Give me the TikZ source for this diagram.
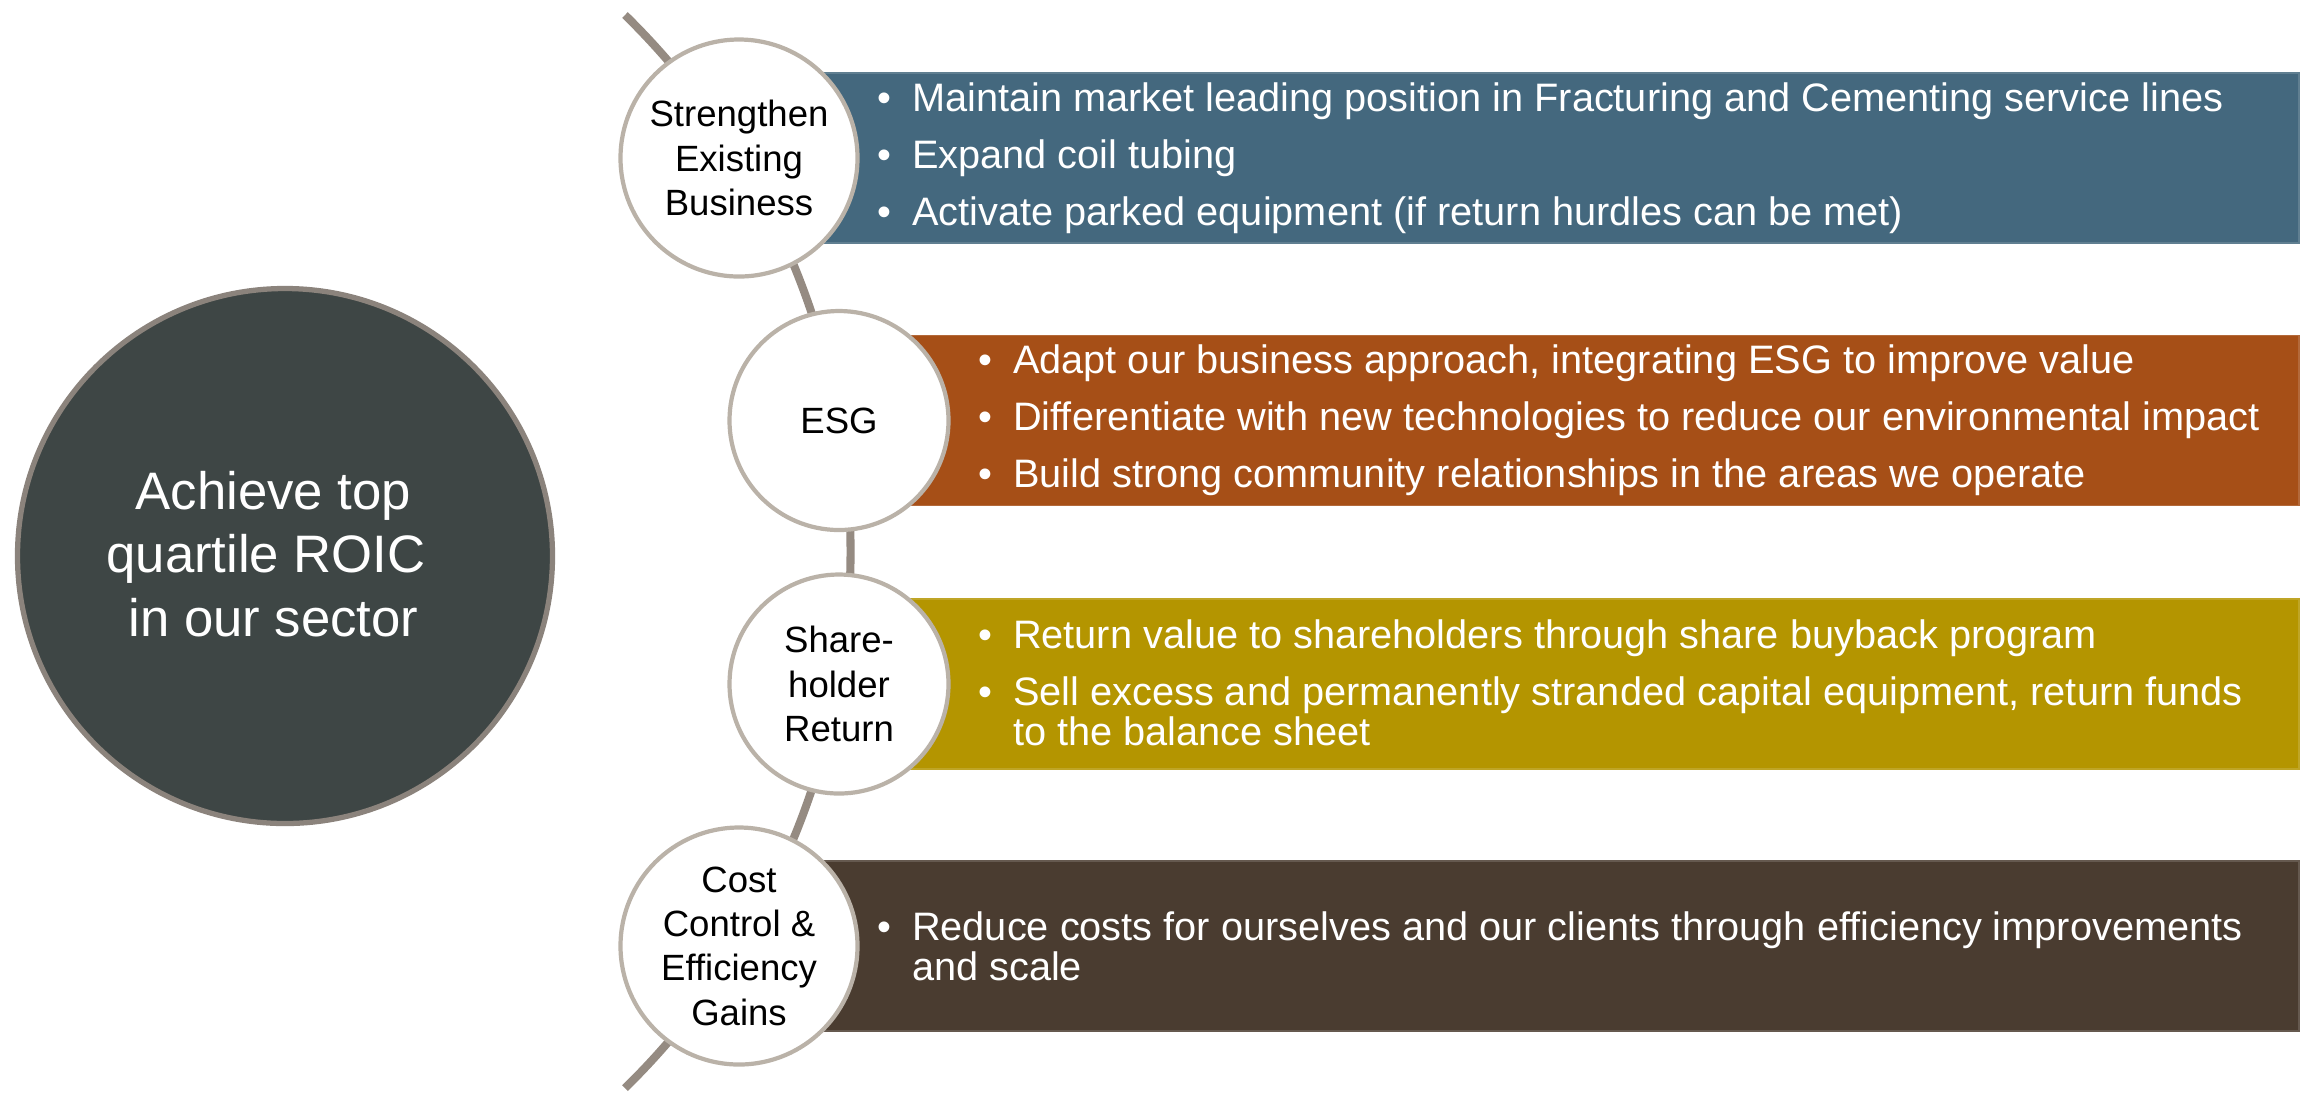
\documentclass[tikz,border=0pt]{standalone}
\usepackage{fontspec}
\setmainfont{Liberation Sans}
\definecolor{cslate}{HTML}{3E4645}
\definecolor{crim}{HTML}{8B837C}
\definecolor{cring}{HTML}{BAB2A8}
\definecolor{cspine}{HTML}{958B82}
\definecolor{cblue}{HTML}{44687E}
\definecolor{corange}{HTML}{A64F17}
\definecolor{cgold}{HTML}{B49500}
\definecolor{cbrown}{HTML}{4A3C30}
\newcommand{\bul}{\makebox[0.35cm][l]{\textbullet}}
\newcommand{\hang}{\hspace*{0.35cm}}
\tikzset{
  every picture/.style={line width=1.2pt},
  pillar/.style={circle, draw=cring, fill=white, line width=1.2pt, align=center, inner sep=0pt, font=\fontsize{10.4}{12.6}\selectfont},
  band/.style={rectangle, fill=#1, draw=#1!85!white, line width=0.5pt, anchor=west, minimum height=1.70cm, inner sep=0pt},
  band/.default=cblue,
  spine/.style={draw=cspine, line width=2.3pt},
  bullets/.style={anchor=west, align=left, text=white, inner sep=0pt, font=\fontsize{11.3}{11.4}\selectfont},
}

\begin{document}
\begin{tikzpicture}[big/.style={pillar, minimum size=2.37cm},
                    small/.style={pillar, minimum size=2.19cm}]
  \useasboundingbox (0,0) rectangle (23.06,-10.93);
  \coordinate (top) at (6.25,-0.15);
  \draw[spine] (top) arc[start angle=45.6, end angle=-45.6, radius=7.51cm] coordinate (bottom);
  \node[band=cblue, minimum width=15.59cm] (b1) at (7.39,-1.58) {};
  \node[band=corange, minimum width=14.59cm] (b2) at (8.39,-4.205) {};
  \node[band=cgold, minimum width=14.59cm] (b3) at (8.39,-6.84) {};
  \node[band=cbrown, minimum width=15.59cm] (b4) at (7.39,-9.46) {};
  \node[big] (c1) at (7.39,-1.58) {Strengthen\\Existing\\Business};
  \node[small] (c2) at (8.39,-4.205) {ESG};
  \node[small] (c3) at (8.39,-6.84) {Share-\\holder\\Return};
  \node[big] (c4) at (7.39,-9.46) {Cost\\Control \&\\Efficiency\\Gains};
  \node[circle, fill=cslate, draw=crim, line width=1.5pt, minimum size=5.35cm, inner sep=0pt] (goal) at (2.85,-5.56) {};
  \node[align=center, text=white, font=\fontsize{15}{18.1}\selectfont] (aim) at (2.735,-5.54) {Achieve top\\quartile ROIC\kern4.2pt\\in our sector};
  \node[bullets] (t1) at (8.75,-1.58) {\bul Maintain market leading position in Fracturing and Cementing service lines\\[0.17cm]
    \bul Expand coil tubing\\[0.17cm]
    \bul Activate parked equipment (if return hurdles can be met)};
  \node[bullets] (t2) at (9.76,-4.205) {\bul Adapt our business approach, integrating ESG to improve value\\[0.17cm]
    \bul Differentiate with new technologies to reduce our environmental impact\\[0.17cm]
    \bul Build strong community relationships in the areas we operate};
  \node[bullets] (t3) at (9.76,-6.83) {\bul Return value to shareholders through share buyback program\\[0.17cm]
    \bul Sell excess and permanently stranded capital equipment, return funds\\
    \hang to the balance sheet};
  \node[bullets] (t4) at (8.75,-9.46) {\bul Reduce costs for ourselves and our clients through efficiency improvements\\
    \hang and scale};
\end{tikzpicture}
\end{document}
